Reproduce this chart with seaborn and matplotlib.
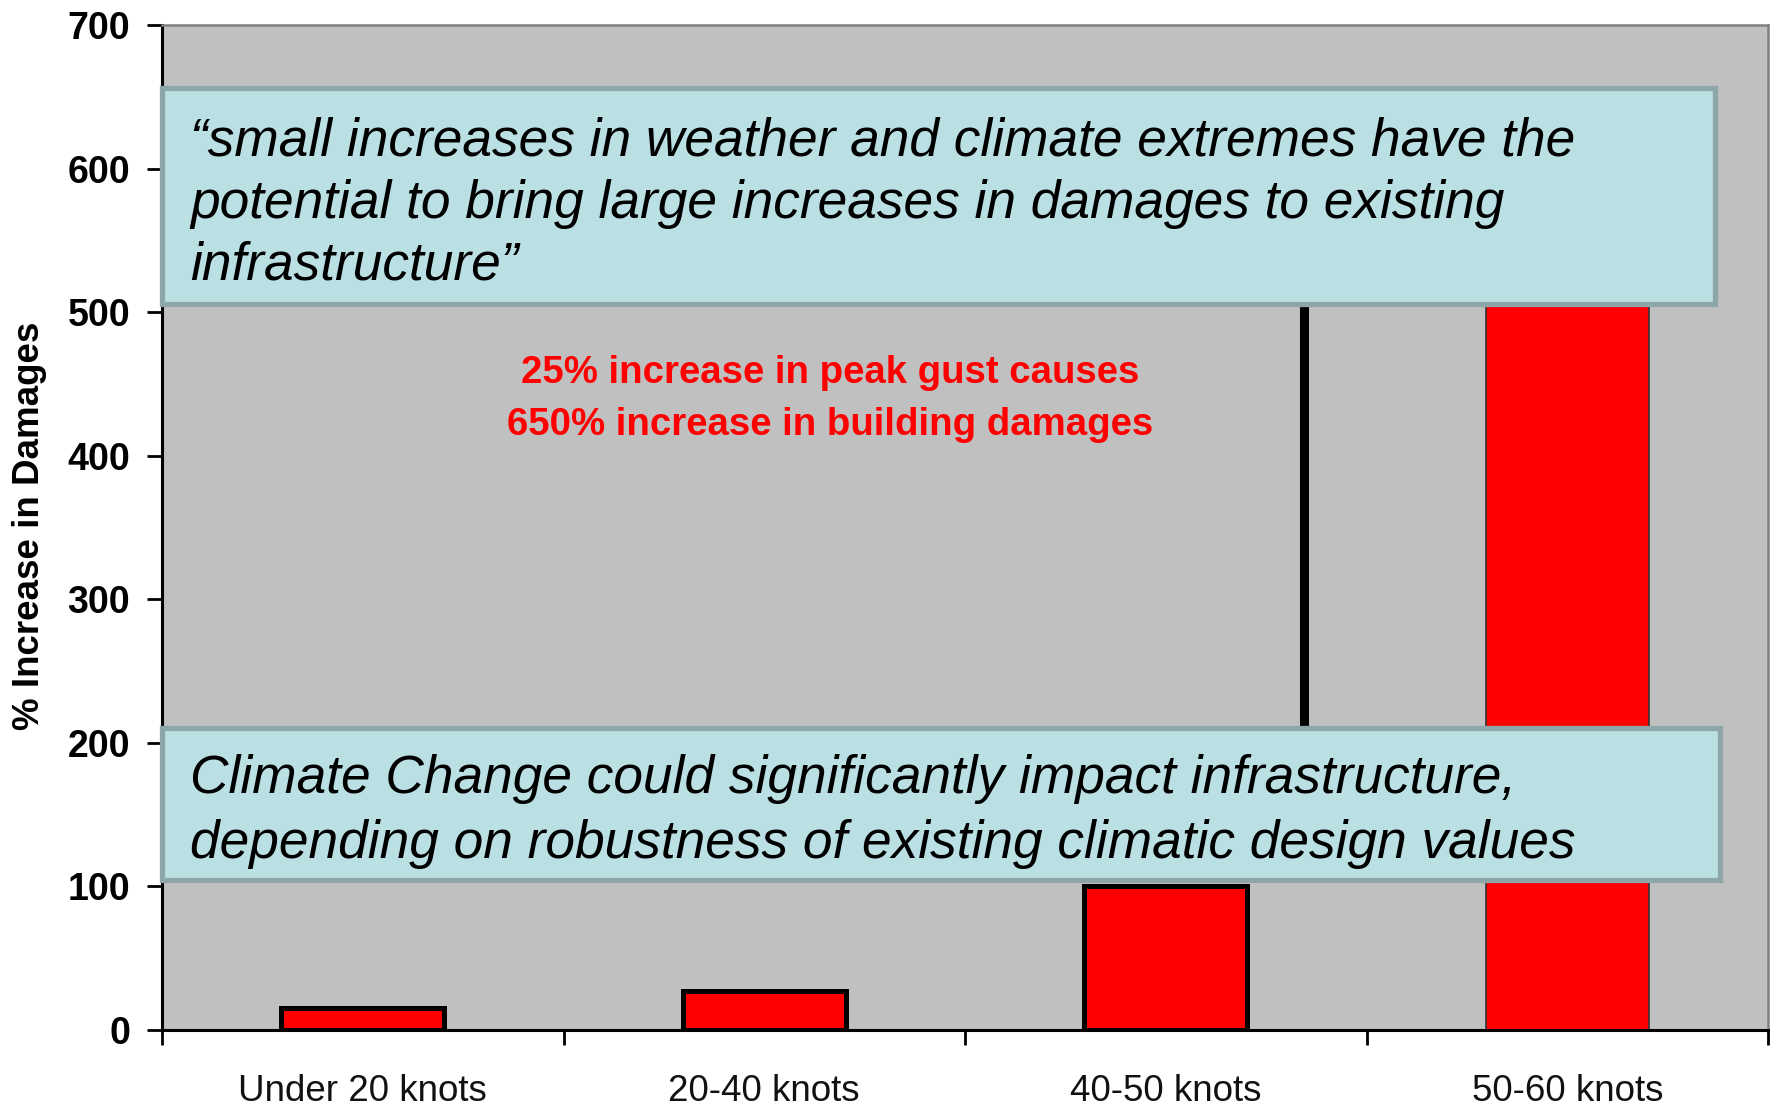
import matplotlib
matplotlib.use("Agg")
import matplotlib.pyplot as plt
import seaborn as sns
import pandas as pd
from matplotlib import font_manager
from matplotlib.patches import Rectangle

# ---- data ----
categories = ["Under 20 knots", "20-40 knots", "40-50 knots", "50-60 knots"]
damage_increase = [15, 27, 100, 650]
y_ticks = [0, 100, 200, 300, 400, 500, 600, 700]
divider_x = 2.345          # vertical black marker (category units)
divider_range = [150, 560]  # its extent in % units
quote_lines = ["\u201csmall increases in weather and climate extremes have the",
               "potential to bring large increases in damages to existing",
               "infrastructure\u201d"]
note_lines = ["Climate Change could significantly impact infrastructure,",
              "depending on robustness of existing climatic design values"]
red_lines = ["25% increase in peak gust causes",
             "650% increase in building damages"]
y_label = "% Increase in Damages"

sns.set_style("ticks")
names = {f.name for f in font_manager.fontManager.ttflist}
narrow = "Liberation Sans Narrow" in names
plt.rcParams['font.family'] = ['Liberation Sans', 'DejaVu Sans']
plt.rcParams['text.color'] = 'black'
plt.rcParams['axes.labelcolor'] = 'black'
plt.rcParams['xtick.color'] = 'black'
plt.rcParams['ytick.color'] = 'black'
narrow_fam = ['Liberation Sans Narrow', 'Liberation Sans'] if narrow else ['Liberation Sans']

W, H = 1775, 1110
fig = plt.figure(figsize=(W / 100, H / 100), dpi=100)
fig.patch.set_facecolor("white")
ax = fig.add_axes([162 / W, 1 - 1030 / H, (1768 - 162) / W, (1030 - 25) / H])

df = pd.DataFrame({"cat": categories, "val": damage_increase})
sns.barplot(data=df, x="cat", y="val", ax=ax, color="#FF0000", saturation=1,
            width=0.405, edgecolor="black", linewidth=3.6, zorder=2)
for p in ax.patches[3:]:
    p.set_linewidth(1.2)
    p.set_edgecolor("#333333")

ax.vlines(divider_x, divider_range[0], divider_range[1], color="black", lw=6.5, zorder=1)

ax.set_facecolor("#C0C0C0")
ax.set_xlim(-0.5, 3.5)
ax.set_ylim(0, 700)
ax.set_yticks(y_ticks)
ax.set_yticklabels([str(t) for t in y_ticks], fontsize=27, fontweight="bold", color="black")
ax.set_xlabel("")
ax.set_ylabel("")
ax.grid(False)

ax.tick_params(axis="y", direction="out", length=11, width=2, pad=12, colors="black")
ax.tick_params(axis="x", which="major", length=0, pad=32, colors="black")
ax.set_xticks([i - 0.5 for i in range(len(categories) + 1)], minor=True)
ax.tick_params(axis="x", which="minor", direction="out", length=11, width=2, color="black")
for lab in ax.get_xticklabels():
    lab.set_fontfamily(narrow_fam)
    lab.set_fontsize(30 if narrow else 26.5)
    lab.set_color("#111111")

for s in ["left", "bottom"]:
    ax.spines[s].set_color("black")
    ax.spines[s].set_linewidth(2.2)
for s in ["top", "right"]:
    ax.spines[s].set_visible(True)
    ax.spines[s].set_color("#7F7F7F")
    ax.spines[s].set_linewidth(1.8)

fig.text(30 / W, 1 - 526 / H, y_label, rotation=90, fontsize=26.5, fontweight="bold",
         ha="center", va="center", color="black")

# red annotation
for txt, yb in zip(red_lines, [383, 435]):
    fig.text(830 / W, 1 - yb / H, txt, color="#FF0000", fontsize=33 if narrow else 27.6,
             fontweight="bold", family=narrow_fam, ha="center", va="baseline")

# boxes
face, edge = "#BBE0E3", "#8CA6A9"
fig.patches.append(Rectangle((162 / W, 1 - 304 / H), (1715 - 162) / W, (304 - 88) / H,
                             transform=fig.transFigure, facecolor=face, edgecolor=edge,
                             linewidth=3.8, zorder=3))
fig.patches.append(Rectangle((162 / W, 1 - 880 / H), (1720 - 162) / W, (880 - 728) / H,
                             transform=fig.transFigure, facecolor=face, edgecolor=edge,
                             linewidth=3.8, zorder=3))
for txt, yb in zip(quote_lines, [155, 218, 280]):
    fig.text(190 / W, 1 - yb / H, txt, fontsize=38.3, style="italic", ha="left",
             va="baseline", zorder=4, color="black")
for txt, yb in zip(note_lines, [793, 858]):
    fig.text(190 / W, 1 - yb / H, txt, fontsize=38.3, style="italic", ha="left",
             va="baseline", zorder=4, color="black")

fig.savefig("out.png", dpi=100)
